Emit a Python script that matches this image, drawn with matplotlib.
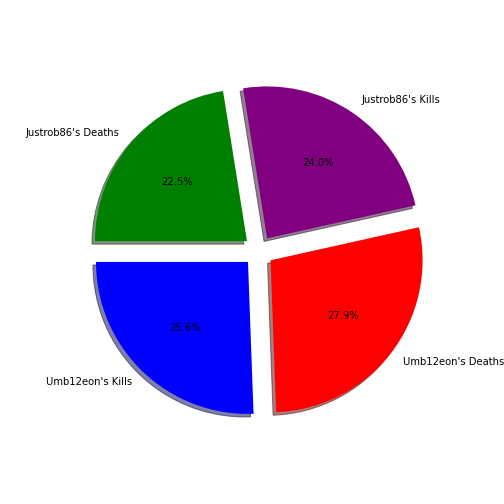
import matplotlib
matplotlib.use('Agg')
import matplotlib.pyplot as plt

# kills / deaths
labels = ["Umb12eon's Kills", "Umb12eon's Deaths", "Justrob86's Kills", "Justrob86's Deaths"]
values = [33, 36, 31, 29]
colors = ['blue', 'red', 'purple', 'green']
explode = [0.1, 0.1, 0.1, 0.1]

fig = plt.figure(figsize=(7, 7), dpi=72)
ax = fig.add_axes([0.136, 0.125, 0.754, 0.754])
ax.pie(values, labels=labels, colors=colors, explode=explode,
       autopct='%1.1f%%', shadow=True, startangle=180)
fig.savefig('out.png', dpi=72)
